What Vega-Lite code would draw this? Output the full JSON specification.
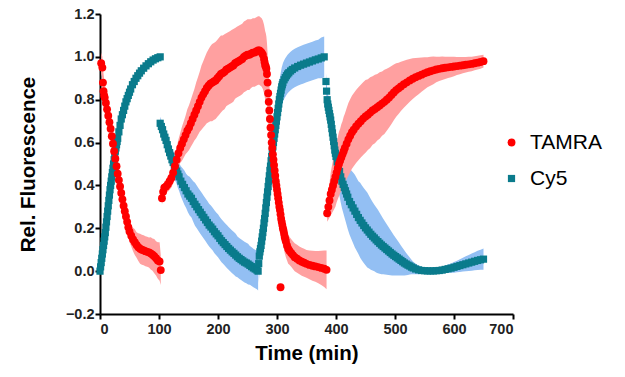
{
"$schema":"https://vega.github.io/schema/vega-lite/v6.json",
"width":413,"height":300,
"autosize":{"type":"none"},
"padding":{"left":100,"top":14,"right":112,"bottom":63},
"background":"white",
"config":{"view":{"stroke":null},
"axis":{"domainColor":"#000","domainWidth":2,"tickColor":"#000","tickWidth":2,"tickSize":5,"labelFont":"Liberation Sans","labelFontWeight":"bold","labelFontSize":14.5,"labelColor":"#222","titleFont":"Liberation Sans","titleFontWeight":"bold","titleFontSize":20.5,"titleColor":"#000","grid":false},
"legend":{"orient":"none","legendX":401,"legendY":118,"symbolSize":150,"labelFontSize":21,"labelFont":"Liberation Sans","labelColor":"#000","rowPadding":14,"labelOffset":8,"padding":0,"symbolStrokeWidth":0}},
"data":{"values":[
{"s":"Cy5","g":"C1","t":0,"v":0.0,"e":0.01},{"s":"Cy5","g":"C1","t":1,"v":0.02,"e":0.01},{"s":"Cy5","g":"C1","t":2,"v":0.04,"e":0.01},{"s":"Cy5","g":"C1","t":3,"v":0.06,"e":0.01},{"s":"Cy5","g":"C1","t":4,"v":0.08,"e":0.01},{"s":"Cy5","g":"C1","t":5,"v":0.10,"e":0.01},{"s":"Cy5","g":"C1","t":6,"v":0.12,"e":0.01},{"s":"Cy5","g":"C1","t":7,"v":0.14,"e":0.01},{"s":"Cy5","g":"C1","t":8,"v":0.16,"e":0.01},{"s":"Cy5","g":"C1","t":9,"v":0.18,"e":0.01},{"s":"Cy5","g":"C1","t":10,"v":0.205,"e":0.01},{"s":"Cy5","g":"C1","t":11,"v":0.23,"e":0.01},{"s":"Cy5","g":"C1","t":12,"v":0.255,"e":0.01},{"s":"Cy5","g":"C1","t":13,"v":0.28,"e":0.01},{"s":"Cy5","g":"C1","t":14,"v":0.305,"e":0.01},{"s":"Cy5","g":"C1","t":15,"v":0.33,"e":0.01},{"s":"Cy5","g":"C1","t":16,"v":0.355,"e":0.01},{"s":"Cy5","g":"C1","t":17,"v":0.38,"e":0.01},{"s":"Cy5","g":"C1","t":18,"v":0.40,"e":0.01},{"s":"Cy5","g":"C1","t":19,"v":0.42,"e":0.01},{"s":"Cy5","g":"C1","t":20,"v":0.44,"e":0.01},{"s":"Cy5","g":"C1","t":21,"v":0.46,"e":0.01},{"s":"Cy5","g":"C1","t":22,"v":0.48,"e":0.01},{"s":"Cy5","g":"C1","t":23,"v":0.50,"e":0.01},{"s":"Cy5","g":"C1","t":24,"v":0.52,"e":0.01},{"s":"Cy5","g":"C1","t":25,"v":0.54,"e":0.01},{"s":"Cy5","g":"C1","t":26,"v":0.56,"e":0.01},{"s":"Cy5","g":"C1","t":27,"v":0.575,"e":0.01},{"s":"Cy5","g":"C1","t":28,"v":0.59,"e":0.01},{"s":"Cy5","g":"C1","t":29,"v":0.605,"e":0.01},{"s":"Cy5","g":"C1","t":30,"v":0.62,"e":0.01},{"s":"Cy5","g":"C1","t":32,"v":0.65,"e":0.01},{"s":"Cy5","g":"C1","t":34,"v":0.68,"e":0.01},{"s":"Cy5","g":"C1","t":36,"v":0.71,"e":0.01},{"s":"Cy5","g":"C1","t":38,"v":0.73,"e":0.01},{"s":"Cy5","g":"C1","t":40,"v":0.75,"e":0.01},{"s":"Cy5","g":"C1","t":42,"v":0.77,"e":0.01},{"s":"Cy5","g":"C1","t":44,"v":0.79,"e":0.01},{"s":"Cy5","g":"C1","t":46,"v":0.805,"e":0.01},{"s":"Cy5","g":"C1","t":48,"v":0.82,"e":0.01},{"s":"Cy5","g":"C1","t":50,"v":0.835,"e":0.01},{"s":"Cy5","g":"C1","t":52,"v":0.85,"e":0.01},{"s":"Cy5","g":"C1","t":55,"v":0.87,"e":0.01},{"s":"Cy5","g":"C1","t":58,"v":0.885,"e":0.01},{"s":"Cy5","g":"C1","t":61,"v":0.90,"e":0.01},{"s":"Cy5","g":"C1","t":64,"v":0.912,"e":0.01},{"s":"Cy5","g":"C1","t":67,"v":0.924,"e":0.01},{"s":"Cy5","g":"C1","t":70,"v":0.935,"e":0.01},{"s":"Cy5","g":"C1","t":74,"v":0.947,"e":0.01},{"s":"Cy5","g":"C1","t":78,"v":0.958,"e":0.01},{"s":"Cy5","g":"C1","t":82,"v":0.968,"e":0.01},{"s":"Cy5","g":"C1","t":86,"v":0.977,"e":0.01},{"s":"Cy5","g":"C1","t":90,"v":0.985,"e":0.01},{"s":"Cy5","g":"C1","t":94,"v":0.991,"e":0.01},{"s":"Cy5","g":"C1","t":98,"v":0.996,"e":0.01},{"s":"Cy5","g":"C1","t":102,"v":1.0,"e":0.01},
{"s":"Cy5","g":"C2","t":102,"v":0.69,"e":0.03},{"s":"Cy5","g":"C2","t":104,"v":0.675,"e":0.03},{"s":"Cy5","g":"C2","t":106,"v":0.66,"e":0.035},{"s":"Cy5","g":"C2","t":108,"v":0.64,"e":0.035},{"s":"Cy5","g":"C2","t":110,"v":0.625,"e":0.035},{"s":"Cy5","g":"C2","t":112,"v":0.61,"e":0.04},{"s":"Cy5","g":"C2","t":114,"v":0.59,"e":0.04},{"s":"Cy5","g":"C2","t":116,"v":0.57,"e":0.04},{"s":"Cy5","g":"C2","t":118,"v":0.553,"e":0.045},{"s":"Cy5","g":"C2","t":120,"v":0.537,"e":0.045},{"s":"Cy5","g":"C2","t":122,"v":0.52,"e":0.05},{"s":"Cy5","g":"C2","t":124,"v":0.507,"e":0.055},{"s":"Cy5","g":"C2","t":126,"v":0.494,"e":0.055},{"s":"Cy5","g":"C2","t":128,"v":0.48,"e":0.06},{"s":"Cy5","g":"C2","t":130,"v":0.467,"e":0.06},{"s":"Cy5","g":"C2","t":132,"v":0.453,"e":0.065},{"s":"Cy5","g":"C2","t":134,"v":0.44,"e":0.065},{"s":"Cy5","g":"C2","t":137,"v":0.42,"e":0.07},{"s":"Cy5","g":"C2","t":140,"v":0.405,"e":0.075},{"s":"Cy5","g":"C2","t":143,"v":0.39,"e":0.08},{"s":"Cy5","g":"C2","t":146,"v":0.375,"e":0.08},{"s":"Cy5","g":"C2","t":149,"v":0.36,"e":0.085},{"s":"Cy5","g":"C2","t":152,"v":0.35,"e":0.09},{"s":"Cy5","g":"C2","t":155,"v":0.34,"e":0.09},{"s":"Cy5","g":"C2","t":158,"v":0.325,"e":0.095},{"s":"Cy5","g":"C2","t":161,"v":0.312,"e":0.1},{"s":"Cy5","g":"C2","t":164,"v":0.3,"e":0.1},{"s":"Cy5","g":"C2","t":167,"v":0.287,"e":0.1},{"s":"Cy5","g":"C2","t":170,"v":0.275,"e":0.1},{"s":"Cy5","g":"C2","t":173,"v":0.263,"e":0.1},{"s":"Cy5","g":"C2","t":176,"v":0.251,"e":0.1},{"s":"Cy5","g":"C2","t":179,"v":0.239,"e":0.1},{"s":"Cy5","g":"C2","t":182,"v":0.227,"e":0.1},{"s":"Cy5","g":"C2","t":185,"v":0.215,"e":0.1},{"s":"Cy5","g":"C2","t":188,"v":0.206,"e":0.1},{"s":"Cy5","g":"C2","t":191,"v":0.196,"e":0.1},{"s":"Cy5","g":"C2","t":194,"v":0.184,"e":0.1},{"s":"Cy5","g":"C2","t":197,"v":0.174,"e":0.1},{"s":"Cy5","g":"C2","t":200,"v":0.165,"e":0.1},{"s":"Cy5","g":"C2","t":203,"v":0.153,"e":0.1},{"s":"Cy5","g":"C2","t":206,"v":0.142,"e":0.1},{"s":"Cy5","g":"C2","t":209,"v":0.133,"e":0.1},{"s":"Cy5","g":"C2","t":212,"v":0.124,"e":0.1},{"s":"Cy5","g":"C2","t":215,"v":0.115,"e":0.1},{"s":"Cy5","g":"C2","t":218,"v":0.106,"e":0.1},{"s":"Cy5","g":"C2","t":221,"v":0.098,"e":0.1},{"s":"Cy5","g":"C2","t":224,"v":0.09,"e":0.1},{"s":"Cy5","g":"C2","t":227,"v":0.083,"e":0.1},{"s":"Cy5","g":"C2","t":230,"v":0.075,"e":0.1},{"s":"Cy5","g":"C2","t":233,"v":0.067,"e":0.095},{"s":"Cy5","g":"C2","t":236,"v":0.06,"e":0.095},{"s":"Cy5","g":"C2","t":239,"v":0.054,"e":0.095},{"s":"Cy5","g":"C2","t":242,"v":0.048,"e":0.095},{"s":"Cy5","g":"C2","t":245,"v":0.042,"e":0.095},{"s":"Cy5","g":"C2","t":248,"v":0.038,"e":0.095},{"s":"Cy5","g":"C2","t":251,"v":0.033,"e":0.095},{"s":"Cy5","g":"C2","t":254,"v":0.027,"e":0.09},{"s":"Cy5","g":"C2","t":257,"v":0.021,"e":0.09},{"s":"Cy5","g":"C2","t":260,"v":0.015,"e":0.09},{"s":"Cy5","g":"C2","t":263,"v":0.01,"e":0.09},{"s":"Cy5","g":"C2","t":266,"v":0.005,"e":0.09},{"s":"Cy5","g":"C2","t":268,"v":0.0,"e":0.09},
{"s":"Cy5","g":"C3","t":269,"v":0.035,"e":0.09},{"s":"Cy5","g":"C3","t":270,"v":0.07,"e":0.09},{"s":"Cy5","g":"C3","t":271,"v":0.09,"e":0.09},{"s":"Cy5","g":"C3","t":272,"v":0.105,"e":0.09},{"s":"Cy5","g":"C3","t":273,"v":0.12,"e":0.09},{"s":"Cy5","g":"C3","t":274,"v":0.14,"e":0.09},{"s":"Cy5","g":"C3","t":275,"v":0.16,"e":0.09},{"s":"Cy5","g":"C3","t":276,"v":0.18,"e":0.09},{"s":"Cy5","g":"C3","t":277,"v":0.20,"e":0.09},{"s":"Cy5","g":"C3","t":278,"v":0.225,"e":0.09},{"s":"Cy5","g":"C3","t":279,"v":0.245,"e":0.09},{"s":"Cy5","g":"C3","t":280,"v":0.27,"e":0.09},{"s":"Cy5","g":"C3","t":281,"v":0.295,"e":0.09},{"s":"Cy5","g":"C3","t":282,"v":0.32,"e":0.09},{"s":"Cy5","g":"C3","t":283,"v":0.345,"e":0.09},{"s":"Cy5","g":"C3","t":284,"v":0.37,"e":0.09},{"s":"Cy5","g":"C3","t":285,"v":0.395,"e":0.09},{"s":"Cy5","g":"C3","t":286,"v":0.42,"e":0.09},{"s":"Cy5","g":"C3","t":287,"v":0.445,"e":0.09},{"s":"Cy5","g":"C3","t":288,"v":0.47,"e":0.09},{"s":"Cy5","g":"C3","t":289,"v":0.49,"e":0.09},{"s":"Cy5","g":"C3","t":290,"v":0.515,"e":0.09},{"s":"Cy5","g":"C3","t":291,"v":0.535,"e":0.09},{"s":"Cy5","g":"C3","t":292,"v":0.56,"e":0.09},{"s":"Cy5","g":"C3","t":293,"v":0.58,"e":0.09},{"s":"Cy5","g":"C3","t":294,"v":0.60,"e":0.09},{"s":"Cy5","g":"C3","t":295,"v":0.62,"e":0.09},{"s":"Cy5","g":"C3","t":296,"v":0.64,"e":0.09},{"s":"Cy5","g":"C3","t":297,"v":0.66,"e":0.09},{"s":"Cy5","g":"C3","t":298,"v":0.68,"e":0.09},{"s":"Cy5","g":"C3","t":299,"v":0.70,"e":0.09},{"s":"Cy5","g":"C3","t":300,"v":0.72,"e":0.09},{"s":"Cy5","g":"C3","t":301,"v":0.74,"e":0.09},{"s":"Cy5","g":"C3","t":302,"v":0.76,"e":0.09},{"s":"Cy5","g":"C3","t":303,"v":0.78,"e":0.09},{"s":"Cy5","g":"C3","t":304,"v":0.80,"e":0.09},{"s":"Cy5","g":"C3","t":305,"v":0.815,"e":0.09},{"s":"Cy5","g":"C3","t":306,"v":0.83,"e":0.09},{"s":"Cy5","g":"C3","t":307,"v":0.845,"e":0.09},{"s":"Cy5","g":"C3","t":308,"v":0.86,"e":0.09},{"s":"Cy5","g":"C3","t":309,"v":0.87,"e":0.09},{"s":"Cy5","g":"C3","t":310,"v":0.88,"e":0.09},{"s":"Cy5","g":"C3","t":312,"v":0.893,"e":0.09},{"s":"Cy5","g":"C3","t":314,"v":0.903,"e":0.09},{"s":"Cy5","g":"C3","t":316,"v":0.912,"e":0.09},{"s":"Cy5","g":"C3","t":318,"v":0.92,"e":0.09},{"s":"Cy5","g":"C3","t":320,"v":0.926,"e":0.09},{"s":"Cy5","g":"C3","t":323,"v":0.934,"e":0.09},{"s":"Cy5","g":"C3","t":326,"v":0.941,"e":0.09},{"s":"Cy5","g":"C3","t":330,"v":0.948,"e":0.09},{"s":"Cy5","g":"C3","t":335,"v":0.955,"e":0.09},{"s":"Cy5","g":"C3","t":340,"v":0.961,"e":0.09},{"s":"Cy5","g":"C3","t":345,"v":0.966,"e":0.09},{"s":"Cy5","g":"C3","t":350,"v":0.971,"e":0.09},{"s":"Cy5","g":"C3","t":355,"v":0.976,"e":0.09},{"s":"Cy5","g":"C3","t":360,"v":0.981,"e":0.09},{"s":"Cy5","g":"C3","t":365,"v":0.986,"e":0.09},{"s":"Cy5","g":"C3","t":370,"v":0.99,"e":0.09},{"s":"Cy5","g":"C3","t":375,"v":0.995,"e":0.095},{"s":"Cy5","g":"C3","t":380,"v":1.0,"e":0.095},
{"s":"Cy5","g":"C4","t":383,"v":0.885,"e":0.04},{"s":"Cy5","g":"C4","t":384,"v":0.84,"e":0.045},{"s":"Cy5","g":"C4","t":385,"v":0.80,"e":0.05},{"s":"Cy5","g":"C4","t":386,"v":0.78,"e":0.05},{"s":"Cy5","g":"C4","t":387,"v":0.765,"e":0.055},{"s":"Cy5","g":"C4","t":388,"v":0.75,"e":0.06},{"s":"Cy5","g":"C4","t":389,"v":0.735,"e":0.06},{"s":"Cy5","g":"C4","t":390,"v":0.72,"e":0.065},{"s":"Cy5","g":"C4","t":391,"v":0.705,"e":0.07},{"s":"Cy5","g":"C4","t":392,"v":0.685,"e":0.07},{"s":"Cy5","g":"C4","t":393,"v":0.665,"e":0.075},{"s":"Cy5","g":"C4","t":394,"v":0.645,"e":0.08},{"s":"Cy5","g":"C4","t":395,"v":0.625,"e":0.085},{"s":"Cy5","g":"C4","t":396,"v":0.605,"e":0.09},{"s":"Cy5","g":"C4","t":397,"v":0.585,"e":0.09},{"s":"Cy5","g":"C4","t":398,"v":0.565,"e":0.095},{"s":"Cy5","g":"C4","t":399,"v":0.55,"e":0.1},{"s":"Cy5","g":"C4","t":400,"v":0.535,"e":0.1},{"s":"Cy5","g":"C4","t":402,"v":0.51,"e":0.105},{"s":"Cy5","g":"C4","t":404,"v":0.485,"e":0.11},{"s":"Cy5","g":"C4","t":406,"v":0.465,"e":0.115},{"s":"Cy5","g":"C4","t":408,"v":0.44,"e":0.12},{"s":"Cy5","g":"C4","t":410,"v":0.42,"e":0.125},{"s":"Cy5","g":"C4","t":412,"v":0.405,"e":0.13},{"s":"Cy5","g":"C4","t":414,"v":0.39,"e":0.135},{"s":"Cy5","g":"C4","t":416,"v":0.375,"e":0.14},{"s":"Cy5","g":"C4","t":418,"v":0.36,"e":0.145},{"s":"Cy5","g":"C4","t":420,"v":0.345,"e":0.15},{"s":"Cy5","g":"C4","t":423,"v":0.325,"e":0.155},{"s":"Cy5","g":"C4","t":426,"v":0.31,"e":0.16},{"s":"Cy5","g":"C4","t":429,"v":0.295,"e":0.165},{"s":"Cy5","g":"C4","t":432,"v":0.28,"e":0.17},{"s":"Cy5","g":"C4","t":435,"v":0.265,"e":0.17},{"s":"Cy5","g":"C4","t":438,"v":0.25,"e":0.17},{"s":"Cy5","g":"C4","t":441,"v":0.237,"e":0.175},{"s":"Cy5","g":"C4","t":444,"v":0.225,"e":0.175},{"s":"Cy5","g":"C4","t":447,"v":0.213,"e":0.175},{"s":"Cy5","g":"C4","t":450,"v":0.202,"e":0.175},{"s":"Cy5","g":"C4","t":453,"v":0.192,"e":0.175},{"s":"Cy5","g":"C4","t":456,"v":0.182,"e":0.17},{"s":"Cy5","g":"C4","t":459,"v":0.172,"e":0.165},{"s":"Cy5","g":"C4","t":462,"v":0.163,"e":0.16},{"s":"Cy5","g":"C4","t":465,"v":0.155,"e":0.155},{"s":"Cy5","g":"C4","t":468,"v":0.146,"e":0.152},{"s":"Cy5","g":"C4","t":471,"v":0.138,"e":0.148},{"s":"Cy5","g":"C4","t":474,"v":0.13,"e":0.142},{"s":"Cy5","g":"C4","t":477,"v":0.122,"e":0.136},{"s":"Cy5","g":"C4","t":480,"v":0.115,"e":0.13},{"s":"Cy5","g":"C4","t":483,"v":0.108,"e":0.124},{"s":"Cy5","g":"C4","t":486,"v":0.101,"e":0.118},{"s":"Cy5","g":"C4","t":489,"v":0.094,"e":0.112},{"s":"Cy5","g":"C4","t":492,"v":0.087,"e":0.106},{"s":"Cy5","g":"C4","t":495,"v":0.08,"e":0.1},{"s":"Cy5","g":"C4","t":498,"v":0.074,"e":0.094},{"s":"Cy5","g":"C4","t":501,"v":0.068,"e":0.088},{"s":"Cy5","g":"C4","t":504,"v":0.062,"e":0.082},{"s":"Cy5","g":"C4","t":507,"v":0.056,"e":0.076},{"s":"Cy5","g":"C4","t":510,"v":0.05,"e":0.07},{"s":"Cy5","g":"C4","t":513,"v":0.044,"e":0.064},{"s":"Cy5","g":"C4","t":516,"v":0.038,"e":0.058},{"s":"Cy5","g":"C4","t":519,"v":0.033,"e":0.052},{"s":"Cy5","g":"C4","t":522,"v":0.028,"e":0.046},{"s":"Cy5","g":"C4","t":525,"v":0.024,"e":0.04},{"s":"Cy5","g":"C4","t":528,"v":0.019,"e":0.034},{"s":"Cy5","g":"C4","t":531,"v":0.015,"e":0.029},{"s":"Cy5","g":"C4","t":535,"v":0.01,"e":0.025},{"s":"Cy5","g":"C4","t":540,"v":0.006,"e":0.02},{"s":"Cy5","g":"C4","t":545,"v":0.003,"e":0.015},{"s":"Cy5","g":"C4","t":550,"v":0.002,"e":0.012},{"s":"Cy5","g":"C4","t":555,"v":0.001,"e":0.012},{"s":"Cy5","g":"C4","t":560,"v":0.001,"e":0.012},{"s":"Cy5","g":"C4","t":565,"v":0.001,"e":0.012},{"s":"Cy5","g":"C4","t":570,"v":0.002,"e":0.012},{"s":"Cy5","g":"C4","t":575,"v":0.003,"e":0.013},{"s":"Cy5","g":"C4","t":580,"v":0.005,"e":0.015},{"s":"Cy5","g":"C4","t":585,"v":0.008,"e":0.017},{"s":"Cy5","g":"C4","t":590,"v":0.011,"e":0.02},{"s":"Cy5","g":"C4","t":595,"v":0.014,"e":0.022},{"s":"Cy5","g":"C4","t":600,"v":0.018,"e":0.025},{"s":"Cy5","g":"C4","t":605,"v":0.022,"e":0.027},{"s":"Cy5","g":"C4","t":610,"v":0.026,"e":0.03},{"s":"Cy5","g":"C4","t":615,"v":0.03,"e":0.032},{"s":"Cy5","g":"C4","t":620,"v":0.034,"e":0.035},{"s":"Cy5","g":"C4","t":625,"v":0.038,"e":0.037},{"s":"Cy5","g":"C4","t":630,"v":0.042,"e":0.04},{"s":"Cy5","g":"C4","t":635,"v":0.046,"e":0.042},{"s":"Cy5","g":"C4","t":640,"v":0.05,"e":0.045},{"s":"Cy5","g":"C4","t":645,"v":0.053,"e":0.047},{"s":"Cy5","g":"C4","t":650,"v":0.056,"e":0.05},
{"s":"TAMRA","g":"T1","t":2,"v":0.97,"e":0.05},{"s":"TAMRA","g":"T1","t":4,"v":0.95,"e":0.05},{"s":"TAMRA","g":"T1","t":5,"v":0.88,"e":0.08},{"s":"TAMRA","g":"T1","t":6,"v":0.84,"e":0.08},{"s":"TAMRA","g":"T1","t":7,"v":0.82,"e":0.08},{"s":"TAMRA","g":"T1","t":8,"v":0.81,"e":0.07},{"s":"TAMRA","g":"T1","t":10,"v":0.785,"e":0.06},{"s":"TAMRA","g":"T1","t":12,"v":0.755,"e":0.05},{"s":"TAMRA","g":"T1","t":14,"v":0.725,"e":0.05},{"s":"TAMRA","g":"T1","t":16,"v":0.695,"e":0.05},{"s":"TAMRA","g":"T1","t":18,"v":0.665,"e":0.05},{"s":"TAMRA","g":"T1","t":20,"v":0.63,"e":0.05},{"s":"TAMRA","g":"T1","t":22,"v":0.595,"e":0.05},{"s":"TAMRA","g":"T1","t":24,"v":0.56,"e":0.05},{"s":"TAMRA","g":"T1","t":26,"v":0.525,"e":0.05},{"s":"TAMRA","g":"T1","t":28,"v":0.49,"e":0.05},{"s":"TAMRA","g":"T1","t":30,"v":0.455,"e":0.05},{"s":"TAMRA","g":"T1","t":32,"v":0.425,"e":0.05},{"s":"TAMRA","g":"T1","t":34,"v":0.395,"e":0.05},{"s":"TAMRA","g":"T1","t":36,"v":0.365,"e":0.05},{"s":"TAMRA","g":"T1","t":38,"v":0.335,"e":0.05},{"s":"TAMRA","g":"T1","t":40,"v":0.305,"e":0.05},{"s":"TAMRA","g":"T1","t":42,"v":0.28,"e":0.05},{"s":"TAMRA","g":"T1","t":44,"v":0.255,"e":0.05},{"s":"TAMRA","g":"T1","t":46,"v":0.23,"e":0.05},{"s":"TAMRA","g":"T1","t":48,"v":0.205,"e":0.05},{"s":"TAMRA","g":"T1","t":50,"v":0.185,"e":0.05},{"s":"TAMRA","g":"T1","t":53,"v":0.165,"e":0.05},{"s":"TAMRA","g":"T1","t":56,"v":0.148,"e":0.055},{"s":"TAMRA","g":"T1","t":59,"v":0.135,"e":0.06},{"s":"TAMRA","g":"T1","t":62,"v":0.122,"e":0.06},{"s":"TAMRA","g":"T1","t":65,"v":0.112,"e":0.065},{"s":"TAMRA","g":"T1","t":68,"v":0.105,"e":0.07},{"s":"TAMRA","g":"T1","t":71,"v":0.10,"e":0.07},{"s":"TAMRA","g":"T1","t":74,"v":0.097,"e":0.07},{"s":"TAMRA","g":"T1","t":77,"v":0.093,"e":0.07},{"s":"TAMRA","g":"T1","t":80,"v":0.09,"e":0.07},{"s":"TAMRA","g":"T1","t":83,"v":0.087,"e":0.07},{"s":"TAMRA","g":"T1","t":86,"v":0.083,"e":0.075},{"s":"TAMRA","g":"T1","t":89,"v":0.077,"e":0.075},{"s":"TAMRA","g":"T1","t":92,"v":0.07,"e":0.08},{"s":"TAMRA","g":"T1","t":95,"v":0.06,"e":0.08},{"s":"TAMRA","g":"T1","t":98,"v":0.05,"e":0.085},{"s":"TAMRA","g":"T1","t":101,"v":0.045,"e":0.09},{"s":"TAMRA","g":"T1","t":103,"v":0.005,"e":0.07},
{"s":"TAMRA","g":"T2","t":105,"v":0.34,"e":0.03},{"s":"TAMRA","g":"T2","t":107,"v":0.37,"e":0.03},{"s":"TAMRA","g":"T2","t":109,"v":0.39,"e":0.03},{"s":"TAMRA","g":"T2","t":112,"v":0.395,"e":0.03},{"s":"TAMRA","g":"T2","t":115,"v":0.405,"e":0.035},{"s":"TAMRA","g":"T2","t":118,"v":0.42,"e":0.04},{"s":"TAMRA","g":"T2","t":121,"v":0.435,"e":0.045},{"s":"TAMRA","g":"T2","t":124,"v":0.46,"e":0.05},{"s":"TAMRA","g":"T2","t":127,"v":0.49,"e":0.055},{"s":"TAMRA","g":"T2","t":130,"v":0.52,"e":0.06},{"s":"TAMRA","g":"T2","t":133,"v":0.55,"e":0.065},{"s":"TAMRA","g":"T2","t":136,"v":0.575,"e":0.07},{"s":"TAMRA","g":"T2","t":139,"v":0.595,"e":0.08},{"s":"TAMRA","g":"T2","t":142,"v":0.615,"e":0.085},{"s":"TAMRA","g":"T2","t":145,"v":0.635,"e":0.09},{"s":"TAMRA","g":"T2","t":148,"v":0.655,"e":0.1},{"s":"TAMRA","g":"T2","t":151,"v":0.67,"e":0.105},{"s":"TAMRA","g":"T2","t":154,"v":0.69,"e":0.11},{"s":"TAMRA","g":"T2","t":157,"v":0.71,"e":0.115},{"s":"TAMRA","g":"T2","t":160,"v":0.73,"e":0.12},{"s":"TAMRA","g":"T2","t":163,"v":0.75,"e":0.13},{"s":"TAMRA","g":"T2","t":166,"v":0.77,"e":0.135},{"s":"TAMRA","g":"T2","t":169,"v":0.79,"e":0.14},{"s":"TAMRA","g":"T2","t":172,"v":0.81,"e":0.15},{"s":"TAMRA","g":"T2","t":175,"v":0.825,"e":0.155},{"s":"TAMRA","g":"T2","t":178,"v":0.84,"e":0.16},{"s":"TAMRA","g":"T2","t":181,"v":0.855,"e":0.165},{"s":"TAMRA","g":"T2","t":184,"v":0.865,"e":0.17},{"s":"TAMRA","g":"T2","t":187,"v":0.875,"e":0.175},{"s":"TAMRA","g":"T2","t":190,"v":0.88,"e":0.18},{"s":"TAMRA","g":"T2","t":193,"v":0.885,"e":0.18},{"s":"TAMRA","g":"T2","t":196,"v":0.89,"e":0.18},{"s":"TAMRA","g":"T2","t":199,"v":0.90,"e":0.18},{"s":"TAMRA","g":"T2","t":202,"v":0.91,"e":0.18},{"s":"TAMRA","g":"T2","t":205,"v":0.92,"e":0.18},{"s":"TAMRA","g":"T2","t":208,"v":0.925,"e":0.175},{"s":"TAMRA","g":"T2","t":211,"v":0.93,"e":0.175},{"s":"TAMRA","g":"T2","t":214,"v":0.94,"e":0.17},{"s":"TAMRA","g":"T2","t":217,"v":0.945,"e":0.17},{"s":"TAMRA","g":"T2","t":220,"v":0.95,"e":0.17},{"s":"TAMRA","g":"T2","t":223,"v":0.955,"e":0.17},{"s":"TAMRA","g":"T2","t":226,"v":0.96,"e":0.17},{"s":"TAMRA","g":"T2","t":229,"v":0.97,"e":0.165},{"s":"TAMRA","g":"T2","t":232,"v":0.975,"e":0.165},{"s":"TAMRA","g":"T2","t":235,"v":0.98,"e":0.165},{"s":"TAMRA","g":"T2","t":238,"v":0.985,"e":0.165},{"s":"TAMRA","g":"T2","t":241,"v":0.99,"e":0.165},{"s":"TAMRA","g":"T2","t":244,"v":1.0,"e":0.165},{"s":"TAMRA","g":"T2","t":247,"v":1.005,"e":0.165},{"s":"TAMRA","g":"T2","t":250,"v":1.01,"e":0.165},{"s":"TAMRA","g":"T2","t":253,"v":1.01,"e":0.165},{"s":"TAMRA","g":"T2","t":256,"v":1.015,"e":0.16},{"s":"TAMRA","g":"T2","t":259,"v":1.02,"e":0.16},{"s":"TAMRA","g":"T2","t":262,"v":1.02,"e":0.16},{"s":"TAMRA","g":"T2","t":265,"v":1.025,"e":0.16},{"s":"TAMRA","g":"T2","t":268,"v":1.03,"e":0.16},{"s":"TAMRA","g":"T2","t":270,"v":1.03,"e":0.16},{"s":"TAMRA","g":"T2","t":272,"v":1.025,"e":0.16},{"s":"TAMRA","g":"T2","t":274,"v":1.02,"e":0.16},{"s":"TAMRA","g":"T2","t":276,"v":1.01,"e":0.16},{"s":"TAMRA","g":"T2","t":278,"v":0.99,"e":0.16},{"s":"TAMRA","g":"T2","t":279,"v":0.975,"e":0.16},{"s":"TAMRA","g":"T2","t":280,"v":0.96,"e":0.16},{"s":"TAMRA","g":"T2","t":281,"v":0.955,"e":0.155},{"s":"TAMRA","g":"T2","t":282,"v":0.945,"e":0.15},{"s":"TAMRA","g":"T2","t":283,"v":0.92,"e":0.145},{"s":"TAMRA","g":"T2","t":284,"v":0.88,"e":0.14},{"s":"TAMRA","g":"T2","t":285,"v":0.83,"e":0.135},{"s":"TAMRA","g":"T2","t":286,"v":0.79,"e":0.13},{"s":"TAMRA","g":"T2","t":287,"v":0.75,"e":0.125},{"s":"TAMRA","g":"T2","t":288,"v":0.71,"e":0.12},{"s":"TAMRA","g":"T2","t":289,"v":0.67,"e":0.115},{"s":"TAMRA","g":"T2","t":290,"v":0.635,"e":0.11},{"s":"TAMRA","g":"T2","t":291,"v":0.60,"e":0.11},{"s":"TAMRA","g":"T2","t":292,"v":0.575,"e":0.105},{"s":"TAMRA","g":"T2","t":293,"v":0.545,"e":0.105},{"s":"TAMRA","g":"T2","t":294,"v":0.52,"e":0.1},{"s":"TAMRA","g":"T2","t":295,"v":0.495,"e":0.1},{"s":"TAMRA","g":"T2","t":296,"v":0.47,"e":0.1},{"s":"TAMRA","g":"T2","t":297,"v":0.445,"e":0.095},{"s":"TAMRA","g":"T2","t":298,"v":0.42,"e":0.095},{"s":"TAMRA","g":"T2","t":299,"v":0.40,"e":0.09},{"s":"TAMRA","g":"T2","t":300,"v":0.38,"e":0.09},{"s":"TAMRA","g":"T2","t":301,"v":0.36,"e":0.09},{"s":"TAMRA","g":"T2","t":302,"v":0.34,"e":0.09},{"s":"TAMRA","g":"T2","t":303,"v":0.32,"e":0.085},{"s":"TAMRA","g":"T2","t":304,"v":0.30,"e":0.085},{"s":"TAMRA","g":"T2","t":305,"v":0.285,"e":0.085},{"s":"TAMRA","g":"T2","t":306,"v":0.265,"e":0.085},{"s":"TAMRA","g":"T2","t":307,"v":0.245,"e":0.08},{"s":"TAMRA","g":"T2","t":308,"v":0.23,"e":0.08},{"s":"TAMRA","g":"T2","t":309,"v":0.215,"e":0.08},{"s":"TAMRA","g":"T2","t":310,"v":0.20,"e":0.08},{"s":"TAMRA","g":"T2","t":311,"v":0.19,"e":0.08},{"s":"TAMRA","g":"T2","t":312,"v":0.175,"e":0.075},{"s":"TAMRA","g":"T2","t":313,"v":0.16,"e":0.075},{"s":"TAMRA","g":"T2","t":314,"v":0.15,"e":0.075},{"s":"TAMRA","g":"T2","t":315,"v":0.14,"e":0.075},{"s":"TAMRA","g":"T2","t":317,"v":0.12,"e":0.07},{"s":"TAMRA","g":"T2","t":319,"v":0.105,"e":0.07},{"s":"TAMRA","g":"T2","t":321,"v":0.095,"e":0.065},{"s":"TAMRA","g":"T2","t":324,"v":0.085,"e":0.065},{"s":"TAMRA","g":"T2","t":327,"v":0.075,"e":0.065},{"s":"TAMRA","g":"T2","t":330,"v":0.065,"e":0.065},{"s":"TAMRA","g":"T2","t":334,"v":0.058,"e":0.065},{"s":"TAMRA","g":"T2","t":338,"v":0.05,"e":0.065},{"s":"TAMRA","g":"T2","t":342,"v":0.044,"e":0.065},{"s":"TAMRA","g":"T2","t":346,"v":0.039,"e":0.065},{"s":"TAMRA","g":"T2","t":350,"v":0.034,"e":0.065},{"s":"TAMRA","g":"T2","t":355,"v":0.029,"e":0.067},{"s":"TAMRA","g":"T2","t":360,"v":0.025,"e":0.07},{"s":"TAMRA","g":"T2","t":365,"v":0.022,"e":0.072},{"s":"TAMRA","g":"T2","t":370,"v":0.019,"e":0.075},{"s":"TAMRA","g":"T2","t":375,"v":0.015,"e":0.08},{"s":"TAMRA","g":"T2","t":380,"v":0.011,"e":0.085},{"s":"TAMRA","g":"T2","t":384,"v":0.006,"e":0.09},
{"s":"TAMRA","g":"T2o","t":306,"v":-0.075,"e":0},
{"s":"TAMRA","g":"T3","t":385,"v":0.27,"e":0.04},{"s":"TAMRA","g":"T3","t":387,"v":0.30,"e":0.06},{"s":"TAMRA","g":"T3","t":389,"v":0.33,"e":0.08},{"s":"TAMRA","g":"T3","t":391,"v":0.36,"e":0.1},{"s":"TAMRA","g":"T3","t":393,"v":0.38,"e":0.11},{"s":"TAMRA","g":"T3","t":395,"v":0.40,"e":0.12},{"s":"TAMRA","g":"T3","t":397,"v":0.42,"e":0.13},{"s":"TAMRA","g":"T3","t":399,"v":0.44,"e":0.14},{"s":"TAMRA","g":"T3","t":401,"v":0.46,"e":0.14},{"s":"TAMRA","g":"T3","t":403,"v":0.48,"e":0.145},{"s":"TAMRA","g":"T3","t":405,"v":0.50,"e":0.15},{"s":"TAMRA","g":"T3","t":407,"v":0.515,"e":0.15},{"s":"TAMRA","g":"T3","t":409,"v":0.53,"e":0.155},{"s":"TAMRA","g":"T3","t":411,"v":0.545,"e":0.155},{"s":"TAMRA","g":"T3","t":413,"v":0.56,"e":0.16},{"s":"TAMRA","g":"T3","t":415,"v":0.575,"e":0.16},{"s":"TAMRA","g":"T3","t":418,"v":0.595,"e":0.165},{"s":"TAMRA","g":"T3","t":421,"v":0.615,"e":0.17},{"s":"TAMRA","g":"T3","t":424,"v":0.632,"e":0.17},{"s":"TAMRA","g":"T3","t":427,"v":0.648,"e":0.17},{"s":"TAMRA","g":"T3","t":430,"v":0.66,"e":0.17},{"s":"TAMRA","g":"T3","t":434,"v":0.675,"e":0.17},{"s":"TAMRA","g":"T3","t":438,"v":0.688,"e":0.17},{"s":"TAMRA","g":"T3","t":442,"v":0.70,"e":0.17},{"s":"TAMRA","g":"T3","t":446,"v":0.712,"e":0.17},{"s":"TAMRA","g":"T3","t":450,"v":0.722,"e":0.17},{"s":"TAMRA","g":"T3","t":454,"v":0.73,"e":0.165},{"s":"TAMRA","g":"T3","t":458,"v":0.74,"e":0.165},{"s":"TAMRA","g":"T3","t":462,"v":0.75,"e":0.16},{"s":"TAMRA","g":"T3","t":466,"v":0.757,"e":0.16},{"s":"TAMRA","g":"T3","t":470,"v":0.765,"e":0.155},{"s":"TAMRA","g":"T3","t":474,"v":0.773,"e":0.155},{"s":"TAMRA","g":"T3","t":478,"v":0.782,"e":0.15},{"s":"TAMRA","g":"T3","t":482,"v":0.79,"e":0.15},{"s":"TAMRA","g":"T3","t":486,"v":0.80,"e":0.145},{"s":"TAMRA","g":"T3","t":490,"v":0.81,"e":0.14},{"s":"TAMRA","g":"T3","t":494,"v":0.822,"e":0.135},{"s":"TAMRA","g":"T3","t":498,"v":0.834,"e":0.13},{"s":"TAMRA","g":"T3","t":502,"v":0.845,"e":0.125},{"s":"TAMRA","g":"T3","t":506,"v":0.853,"e":0.12},{"s":"TAMRA","g":"T3","t":510,"v":0.862,"e":0.115},{"s":"TAMRA","g":"T3","t":515,"v":0.872,"e":0.11},{"s":"TAMRA","g":"T3","t":520,"v":0.881,"e":0.105},{"s":"TAMRA","g":"T3","t":525,"v":0.89,"e":0.1},{"s":"TAMRA","g":"T3","t":530,"v":0.898,"e":0.095},{"s":"TAMRA","g":"T3","t":535,"v":0.905,"e":0.09},{"s":"TAMRA","g":"T3","t":540,"v":0.911,"e":0.085},{"s":"TAMRA","g":"T3","t":545,"v":0.917,"e":0.08},{"s":"TAMRA","g":"T3","t":550,"v":0.923,"e":0.075},{"s":"TAMRA","g":"T3","t":555,"v":0.928,"e":0.07},{"s":"TAMRA","g":"T3","t":560,"v":0.933,"e":0.068},{"s":"TAMRA","g":"T3","t":565,"v":0.937,"e":0.065},{"s":"TAMRA","g":"T3","t":570,"v":0.941,"e":0.06},{"s":"TAMRA","g":"T3","t":575,"v":0.944,"e":0.057},{"s":"TAMRA","g":"T3","t":580,"v":0.947,"e":0.055},{"s":"TAMRA","g":"T3","t":585,"v":0.949,"e":0.052},{"s":"TAMRA","g":"T3","t":590,"v":0.951,"e":0.05},{"s":"TAMRA","g":"T3","t":595,"v":0.953,"e":0.048},{"s":"TAMRA","g":"T3","t":600,"v":0.955,"e":0.045},{"s":"TAMRA","g":"T3","t":605,"v":0.957,"e":0.042},{"s":"TAMRA","g":"T3","t":610,"v":0.959,"e":0.04},{"s":"TAMRA","g":"T3","t":615,"v":0.961,"e":0.038},{"s":"TAMRA","g":"T3","t":620,"v":0.963,"e":0.036},{"s":"TAMRA","g":"T3","t":625,"v":0.965,"e":0.035},{"s":"TAMRA","g":"T3","t":630,"v":0.967,"e":0.034},{"s":"TAMRA","g":"T3","t":635,"v":0.97,"e":0.033},{"s":"TAMRA","g":"T3","t":640,"v":0.973,"e":0.032},{"s":"TAMRA","g":"T3","t":645,"v":0.976,"e":0.031},{"s":"TAMRA","g":"T3","t":650,"v":0.98,"e":0.03}
]},
"encoding":{
"x":{"field":"t","type":"quantitative","scale":{"domain":[0,700],"nice":false},"axis":{"values":[0,100,200,300,400,500,600,700],"format":"d","title":"Time (min)","labelPadding":3,"titlePadding":8}},
"y":{"field":"v","type":"quantitative","scale":{"domain":[-0.2,1.2],"nice":false,"zero":false},"axis":{"values":[-0.2,0,0.2,0.4,0.6,0.8,1.0,1.2],"format":".1f","title":"Rel. Fluorescence","titlePadding":27,"labelPadding":1}}
},
"layer":[
{"data":{"values":[{}]},"mark":{"type":"rule","color":"#a0a0a0","strokeDash":[2,2],"strokeWidth":1.5},"encoding":{"x":null,"y":{"datum":0,"type":"quantitative"}}},
{"transform":[{"filter":"datum.s === 'Cy5'"}],"mark":{"type":"errorband","color":"#93BFF3","band":{"opacity":1}},
 "encoding":{"yError":{"field":"e"},"detail":{"field":"g"}}},
{"transform":[{"filter":"datum.s === 'TAMRA'"}],"mark":{"type":"errorband","color":"#FFA0A0","band":{"opacity":1}},
 "encoding":{"yError":{"field":"e"},"detail":{"field":"g"}}},
{"mark":{"type":"point","filled":true,"opacity":1,"strokeWidth":0},
 "encoding":{
 "color":{"field":"s","type":"nominal","scale":{"domain":["TAMRA","Cy5"],"range":["#FF0000","#0A7B8C"]},"legend":{"title":null}},
 "shape":{"field":"s","type":"nominal","scale":{"domain":["TAMRA","Cy5"],"range":["circle","square"]},"legend":{"title":null}},
 "size":{"field":"s","type":"nominal","scale":{"domain":["TAMRA","Cy5"],"range":[62,52]},"legend":null}}}
]
}
